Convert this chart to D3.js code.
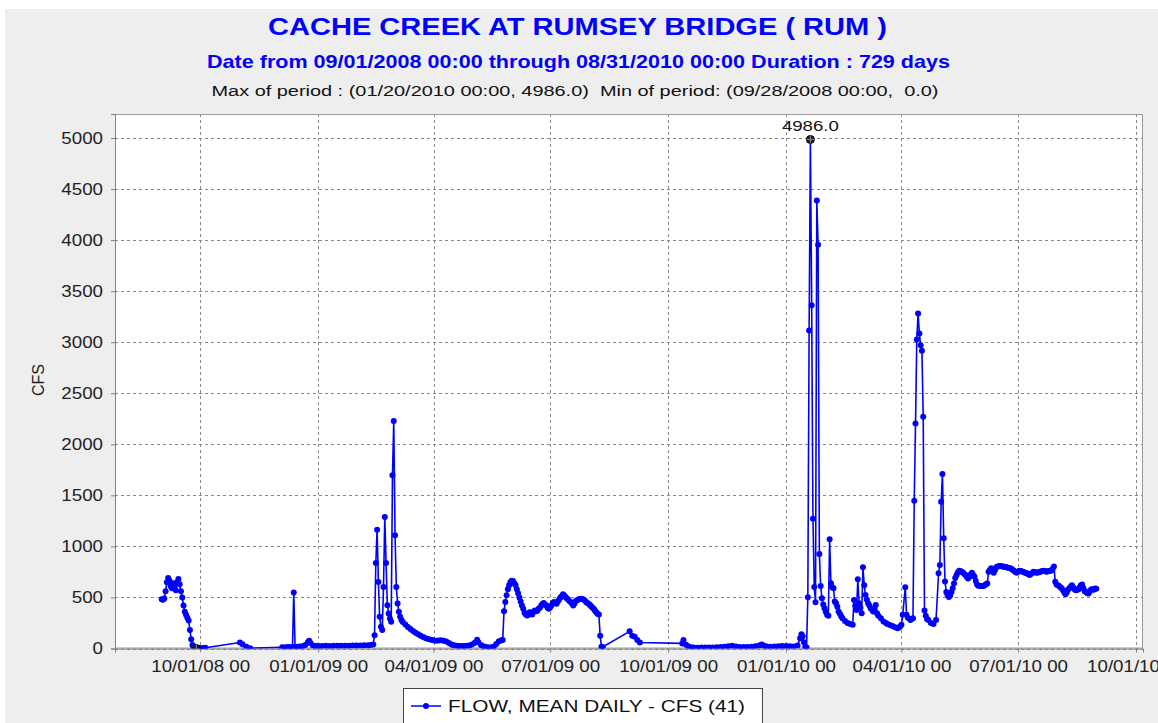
<!DOCTYPE html>
<html><head><meta charset="utf-8">
<script src="https://cdn.jsdelivr.net/npm/d3@7"></script>
<style>
body{margin:0;background:#fff;}
svg{display:block;font-family:"Liberation Sans",Arial,sans-serif;}
</style>
</head><body>
<svg id="chart" width="1158" height="723"></svg>
<script>
// ---------------- data ----------------
const titleText = "CACHE CREEK AT RUMSEY BRIDGE ( RUM )";
const subtitleText = "Date from 09/01/2008 00:00 through 08/31/2010 00:00 Duration : 729 days";
const statsText = "Max of period : (01/20/2010 00:00, 4986.0)  Min of period: (09/28/2008 00:00,  0.0)";
const seriesName = "FLOW, MEAN DAILY - CFS (41)";
const yAxisLabel = "CFS";
const startDate = "2008-09-01";   // day 0 of the series
const minDay = 27;                 // 09/28/2008
const maxDay = 506;                // 01/20/2010
const yTicks = [0, 500, 1000, 1500, 2000, 2500, 3000, 3500, 4000, 4500, 5000];
const xTickDates = ["2008-10-01","2009-01-01","2009-04-01","2009-07-01","2009-10-01","2010-01-01","2010-04-01","2010-07-01","2010-10-01"];

// day offsets since 09/01/2008
const days = [
  0,1,2,3,4,5,6,7,8,9,10,11,12,13,14,15,16,17,18,19,20,21,22,23,24,25,26,27,28,29,30,
  32,34,61,63,66,69,
  94,96,98,100,102,103,104,106,108,110,112,114,115,116,118,120,
  122,125,128,131,134,137,140,143,146,149,152,155,158,161,163,165,
  166,167,168,169,170,171,172,173,174,175,176,177,178,179,180,181,182,183,184,185,186,187,188,
  190,192,194,196,198,200,202,204,206,208,210,212,214,216,218,220,222,224,226,228,230,232,234,236,238,240,242,244,246,
  247,249,251,253,255,257,259,261,263,265,266,
  267,268,269,270,271,272,273,274,275,276,
  277,278,279,280,281,282,283,284,285,286,
  287,288,289,290,291,292,293,294,295,296,
  297,298,299,300,301,302,303,304,305,306,
  307,308,309,310,311,312,313,314,315,316,
  317,318,319,320,321,322,323,324,325,326,
  327,328,329,330,331,332,333,334,335,336,
  337,338,339,340,341,342,343,344,
  365,367,369,371,373,406,407,409,411,413,415,418,421,424,427,430,433,436,439,442,445,448,451,454,457,
  460,463,466,468,470,472,475,478,481,484,487,490,493,496,498,499,500,501,502,503,
  504,505,506,507,508,509,510,511,512,513,
  514,515,516,517,518,519,520,521,522,523,
  524,525,526,527,528,529,530,531,
  533,535,537,539,
  540,541,542,543,544,545,546,547,548,549,
  550,551,552,553,554,555,556,557,558,559,
  561,563,565,566,568,570,572,574,575,576,
  577,578,580,581,582,584,585,586,
  587,588,589,590,591,592,593,594,595,596,
  597,598,600,602,604,
  606,607,608,609,610,611,612,613,614,615,
  616,617,618,619,620,621,622,623,624,625,
  626,627,628,629,630,631,632,633,634,635,
  636,637,638,639,640,641,642,643,644,645,
  646,647,648,649,650,651,652,653,654,655,
  656,657,658,659,660,661,662,663,664,665,
  666,667,668,669,670,671,672,673,674,675,
  676,677,678,679,680,681,682,683,684,685,
  686,687,688,689,690,691,692,693,694,695,
  696,697,698,699,700,701,702,703,704,705,
  706,707,708,709,710,711,712,713,714,715,
  716,717,718,719,720,721,722,723,724,725,
  726,727,728,729
];
// mean daily flow, cfs
const flow = [
  483,478,490,560,650,690,665,610,590,640,600,570,650,680,630,560,500,420,360,330,300,275,180,90,35,12,5,0,4,3,2,
  4,8,59,42,16,3,
  12,10,14,15,12,548,15,18,20,22,35,60,75,55,30,25,
  25,24,26,25,27,26,28,27,28,30,29,30,32,33,35,40,
  130,838,1164,652,310,212,180,603,1288,838,424,342,294,261,1696,2228,1109,603,440,359,310,280,260,
  235,210,190,172,155,140,125,112,100,92,85,80,76,78,82,76,68,55,40,32,27,25,24,25,27,30,38,55,85,
  60,35,22,14,10,12,18,45,72,80,83,
  366,455,521,580,620,650,663,660,640,620,
  580,540,500,460,420,389,350,333,323,330,
  356,340,333,360,373,366,370,389,400,422,
  435,445,432,422,400,389,405,422,445,455,
  445,439,460,479,500,512,531,520,505,490,
  479,465,455,440,422,440,465,472,479,485,
  488,485,479,470,455,445,439,425,413,400,
  389,370,356,340,333,125,17,15,
  168,125,116,83,59,50,83,36,20,12,10,8,9,10,10,10,12,14,18,22,26,20,15,14,15,
  18,22,30,40,28,20,18,20,22,25,25,22,20,30,100,140,120,60,15,10,
  503,3114,4986,3361,1271,603,452,4388,3954,926,
  613,492,430,395,360,330,320,1070,640,600,
  590,460,443,410,362,340,315,297,
  270,250,240,232,
  476,420,378,678,443,400,346,796,620,525,
  480,443,420,395,380,362,390,427,346,320,
  297,264,250,241,230,220,209,199,205,215,
  232,330,600,330,300,280,290,297,
  1448,2205,3027,3281,3085,2971,2916,2270,372,320,
  290,280,250,241,280,
  737,819,1438,1709,1080,656,554,525,505,520,
  554,590,637,690,720,745,762,760,752,745,
  730,720,700,686,700,725,743,720,703,660,
  627,615,611,611,611,611,620,630,637,752,
  770,785,760,743,770,795,802,805,808,805,
  802,800,798,795,790,788,785,778,770,760,
  750,743,752,762,758,755,752,745,740,736,
  728,720,730,740,752,748,745,743,748,752,
  755,760,762,758,752,755,758,762,765,780,
  802,653,627,620,611,600,590,571,550,531,
  550,578,590,605,620,600,580,571,575,578,
  600,620,627,590,560,554,540,538,560,578,
  580,575,587,585
];

// ---------------- drawing ----------------
if (days.length !== flow.length) console.error("length mismatch", days.length, flow.length);

const svg = d3.select("#chart");
const W = 1158, H = 723;
const P = {left: 115, top: 114, right: 1143, bottom: 648.5};
const BLUE = "#0000ff";

const parse = d3.utcParse("%Y-%m-%d");
const t0 = parse(startDate);
const toDate = d => new Date(t0.getTime() + d * 864e5);
const data = days.map((d, i) => ({date: toDate(d), v: flow[i]}));

const spanDays = d3.max(days) - d3.min(days);
const pad = 0.05 * spanDays;
const x = d3.scaleUtc()
  .domain([toDate(d3.min(days) - pad), toDate(d3.max(days) + pad)])
  .range([P.left, P.right]);
const y = d3.scaleLinear()
  .domain([0, d3.max(flow) * 1.05])
  .range([P.bottom, P.top]);

// backgrounds
svg.append("rect").attr("width", W).attr("height", H).attr("fill", "#ffffff");
svg.append("rect").attr("x", 5).attr("y", 9).attr("width", W - 5).attr("height", H - 9).attr("fill", "#eeeeee");
svg.append("rect").attr("x", P.left).attr("y", P.top)
  .attr("width", P.right - P.left).attr("height", P.bottom - P.top).attr("fill", "#ffffff");

function stretch(sel, w) {
  sel.attr("textLength", w).attr("lengthAdjust", "spacingAndGlyphs");
}

// titles
stretch(svg.append("text").attr("x", 577.5).attr("y", 35).attr("text-anchor", "middle")
  .attr("font-size", 24).attr("font-weight", "bold").attr("fill", BLUE).text(titleText), 619);
stretch(svg.append("text").attr("x", 578.5).attr("y", 68).attr("text-anchor", "middle")
  .attr("font-size", 19).attr("font-weight", "bold").attr("fill", BLUE).text(subtitleText), 743);
stretch(svg.append("text").attr("x", 575).attr("y", 96).attr("text-anchor", "middle")
  .attr("font-size", 15.5).attr("fill", "#111").style("white-space", "pre").text(statsText), 727);

// grid
const xTicks = xTickDates.map(parse);
const grid = svg.append("g").attr("stroke", "#888888").attr("stroke-width", 1)
  .attr("stroke-dasharray", "3,3");
grid.selectAll("line.v").data(xTicks).join("line")
  .attr("x1", d => Math.round(x(d)) + 0.5).attr("x2", d => Math.round(x(d)) + 0.5)
  .attr("y1", P.top).attr("y2", P.bottom);
grid.selectAll("line.h").data(yTicks).join("line")
  .attr("y1", d => Math.round(y(d)) + 0.5).attr("y2", d => Math.round(y(d)) + 0.5)
  .attr("x1", P.left).attr("x2", P.right);

// plot border
svg.append("rect").attr("x", P.left + 0.5).attr("y", P.top + 0.5)
  .attr("width", P.right - P.left - 1).attr("height", P.bottom - P.top - 1)
  .attr("fill", "none").attr("stroke", "#9a9a9a");

// axes
const axisColor = "#808080";
const yAxis = svg.append("g").attr("transform", `translate(${P.left},0)`)
  .call(d3.axisLeft(y).tickValues(yTicks).tickFormat(d3.format("d")).tickSize(4).tickPadding(8));
const xAxis = svg.append("g").attr("transform", `translate(0,${P.bottom})`)
  .call(d3.axisBottom(x).tickValues(xTicks).tickFormat(d3.utcFormat("%m/%d/%y %H")).tickSize(4).tickPadding(8));
[yAxis, xAxis].forEach(g => {
  g.select(".domain").attr("stroke", axisColor);
  g.selectAll(".tick line").attr("stroke", axisColor);
  g.selectAll("text").attr("font-size", 16).attr("fill", "#222")
    .attr("font-family", '"Liberation Sans",Arial,sans-serif')
    .each(function () {
      const w = this.getComputedTextLength();
      d3.select(this).attr("textLength", w * 1.17).attr("lengthAdjust", "spacingAndGlyphs");
    });
});

// y axis label
svg.append("text").attr("transform", "translate(44,380) rotate(-90)")
  .attr("text-anchor", "middle").attr("font-size", 16).attr("fill", "#222").text(yAxisLabel);

// clip
svg.append("clipPath").attr("id", "clip").append("rect")
  .attr("x", P.left).attr("y", P.top).attr("width", P.right - P.left).attr("height", P.bottom - P.top);
const plotG = svg.append("g").attr("clip-path", "url(#clip)");

// series line + markers
const line = d3.line().x(d => x(d.date)).y(d => y(d.v));
plotG.append("path").datum(data).attr("d", line)
  .attr("fill", "none").attr("stroke", BLUE).attr("stroke-width", 1.6).attr("stroke-linejoin", "round");
plotG.selectAll("circle.pt").data(data).join("circle").attr("class", "pt")
  .attr("cx", d => x(d.date)).attr("cy", d => y(d.v)).attr("r", 3).attr("fill", BLUE);

// max / min markers
function marker(g, cx, cy) {
  g.append("circle").attr("cx", cx).attr("cy", cy).attr("r", 4).attr("fill", "#222").attr("stroke", "#000");
  g.append("line").attr("x1", cx - 4).attr("x2", cx + 4).attr("y1", cy).attr("y2", cy).attr("stroke", "#888").attr("stroke-width", 1);
  g.append("line").attr("x1", cx).attr("x2", cx).attr("y1", cy - 4).attr("y2", cy + 4).attr("stroke", "#888").attr("stroke-width", 1);
}
const maxIdx = days.indexOf(maxDay), minIdx = days.indexOf(minDay);
const mx = x(data[maxIdx].date), my = y(data[maxIdx].v);
marker(plotG, mx, my);
marker(plotG, x(data[minIdx].date), y(data[minIdx].v));
stretch(svg.append("text").attr("x", mx).attr("y", my - 8).attr("text-anchor", "middle")
  .attr("font-size", 15.5).attr("fill", "#111").text(d3.format(".1f")(data[maxIdx].v)), 57);

// legend
const lg = svg.append("g");
lg.append("rect").attr("x", 403.5).attr("y", 688.5).attr("width", 359).attr("height", 60)
  .attr("fill", "#ffffff").attr("stroke", "#444");
lg.append("line").attr("x1", 411).attr("x2", 441).attr("y1", 706).attr("y2", 706)
  .attr("stroke", BLUE).attr("stroke-width", 1.5);
lg.append("circle").attr("cx", 426).attr("cy", 706).attr("r", 3).attr("fill", BLUE);
stretch(lg.append("text").attr("x", 448).attr("y", 712).attr("font-size", 17).attr("fill", "#111").text(seriesName), 297);
</script>
</body></html>
